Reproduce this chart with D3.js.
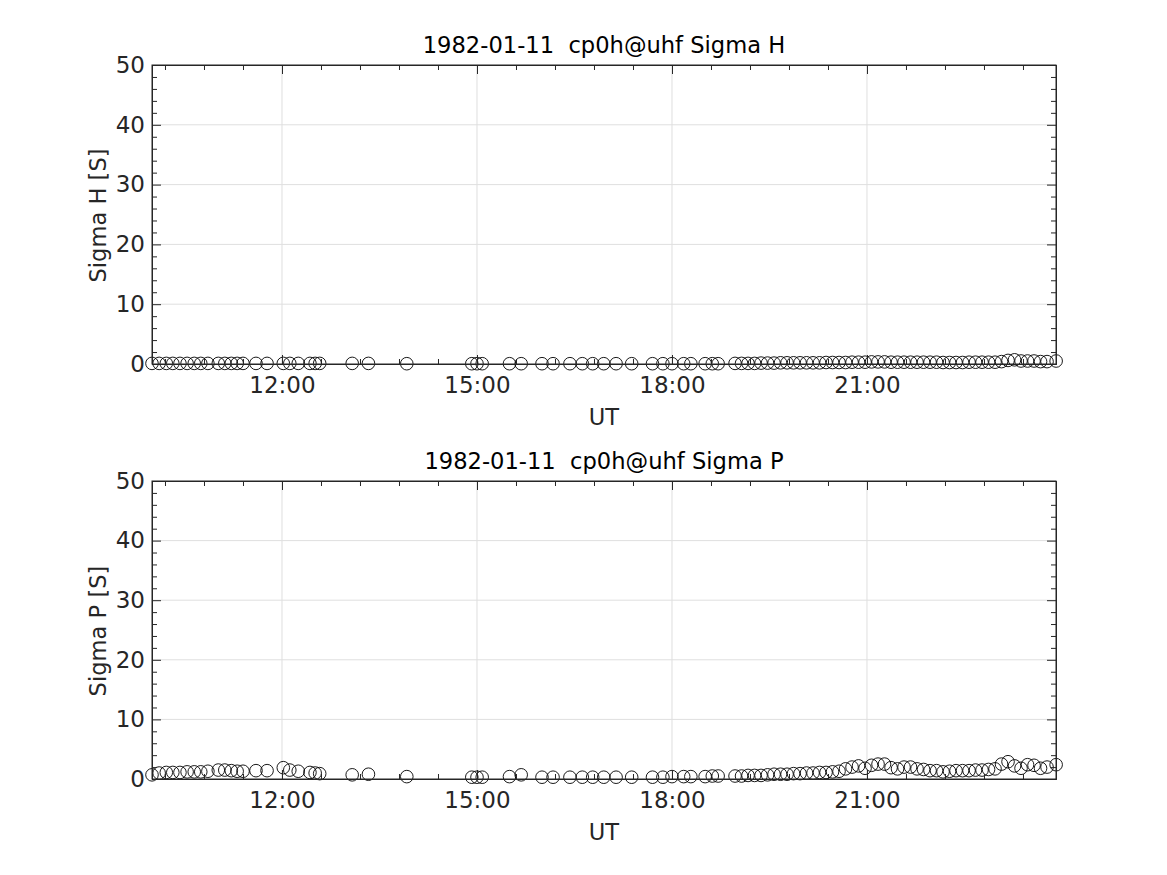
<!DOCTYPE html>
<html><head><meta charset="utf-8">
<script src="https://cdn.jsdelivr.net/npm/d3@7"></script>
<style>body{margin:0;background:#fff}svg{display:block}text{white-space:pre}</style>
</head><body>
<script>
// Time (UT, decimal hours)
const timesUT = [
  10.00,10.11,10.22,10.32,10.43,10.54,10.65,10.75,10.86,
  11.02,11.12,11.22,11.31,11.40,
  11.60,11.77,
  12.02,12.12,12.25,12.43,12.51,12.58,
  13.08,13.33,13.92,
  14.92,15.00,15.08,
  15.50,15.68,
  16.00,16.17,16.43,16.62,16.78,16.95,17.14,17.38,
  17.70,17.86,18.00,18.18,18.29,
  18.51,18.62,18.71,
  18.97,19.07,19.17,19.27,19.37,19.47,19.57,19.67,19.77,19.87,
  19.97,20.07,20.17,20.27,20.37,20.47,20.57,20.67,20.77,20.87,
  20.97,21.07,21.17,21.27,21.37,21.47,21.57,21.67,21.77,21.87,
  21.97,22.07,22.17,22.27,22.37,22.47,22.57,22.67,22.77,22.87,
  22.97,23.07,23.17,23.27,23.37,23.47,23.57,23.67,23.77,23.91
];
const sigmaH = [
  0.1,0.1,0.1,0.1,0.1,0.1,0.1,0.1,0.1,
  0.1,0.1,0.1,0.1,0.1,
  0.1,0.1,
  0.1,0.1,0.1,0.1,0.1,0.1,
  0.1,0.1,0.05,
  0.05,0.05,0.05,
  0.05,0.05,
  0.05,0.05,0.05,0.05,0.05,0.05,0.05,0.05,
  0.05,0.05,0.05,0.05,0.05,
  0.05,0.05,0.05,
  0.1,0.1,0.1,0.1,0.15,0.15,0.15,0.2,0.2,0.2,
  0.2,0.2,0.2,0.2,0.25,0.25,0.25,0.25,0.3,0.3,
  0.3,0.35,0.35,0.35,0.3,0.3,0.3,0.3,0.3,0.3,
  0.3,0.3,0.25,0.25,0.25,0.25,0.3,0.3,0.3,0.3,
  0.3,0.4,0.6,0.7,0.5,0.5,0.5,0.4,0.4,0.5
];
const sigmaP = [
  0.7,1.0,1.1,1.1,1.1,1.2,1.2,1.2,1.3,
  1.5,1.5,1.4,1.3,1.3,
  1.4,1.4,
  1.9,1.5,1.3,1.1,1.0,0.9,
  0.7,0.8,0.4,
  0.3,0.3,0.3,
  0.4,0.7,
  0.3,0.3,0.3,0.3,0.3,0.3,0.3,0.3,
  0.3,0.3,0.4,0.4,0.4,
  0.4,0.5,0.5,
  0.5,0.5,0.6,0.6,0.6,0.7,0.8,0.8,0.8,0.9,
  0.9,1.0,1.0,1.1,1.1,1.2,1.3,1.7,2.0,2.2,
  1.8,2.3,2.5,2.5,1.9,1.7,2.0,2.0,1.7,1.6,
  1.4,1.4,1.2,1.3,1.4,1.4,1.4,1.5,1.5,1.6,
  1.7,2.5,2.9,2.2,1.8,2.4,2.3,1.8,2.0,2.4
];
const xTicks = [12, 15, 18, 21];
const xTickLabels = ["12:00", "15:00", "18:00", "21:00"];
const yTicks = [0, 10, 20, 30, 40, 50];

const panels = [
  {title: "1982-01-11  cp0h@uhf Sigma H", ylabel: "Sigma H [S]", values: sigmaH, top: 65, bottom: 364},
  {title: "1982-01-11  cp0h@uhf Sigma P", ylabel: "Sigma P [S]", values: sigmaP, top: 481, bottom: 779}
];

const W = 1167, H = 875, L = 152, R = 1056;
const svg = d3.select("body").append("svg").attr("width", W).attr("height", H);
const font = "DejaVu Sans, sans-serif";
const txt = "#262626";

const x = d3.scaleLinear().domain([10, 23.908]).range([L, R]);
const minorX = [];
for (let t = 10.2; t < 23.95; t += 0.6) { if (!xTicks.some(m => Math.abs(m - t) < 0.01)) minorX.push(+t.toFixed(2)); }
const minorY = d3.range(0, 51, 2).filter(v => v % 10 !== 0);

panels.forEach(p => {
  const y = d3.scaleLinear().domain([0, 50]).range([p.bottom, p.top]);
  const g = svg.append("g");
  g.selectAll(".gx").data(xTicks).join("line")
    .attr("x1", d => x(d)).attr("x2", d => x(d)).attr("y1", p.top).attr("y2", p.bottom)
    .attr("stroke", "#dfdfdf").attr("stroke-width", 1);
  g.selectAll(".gy").data(yTicks.slice(1, -1)).join("line")
    .attr("y1", d => y(d)).attr("y2", d => y(d)).attr("x1", L).attr("x2", R)
    .attr("stroke", "#dfdfdf").attr("stroke-width", 1);

  const axB = d3.axisBottom(x).tickValues(xTicks).tickFormat((d, i) => xTickLabels[i]).tickSizeInner(-9).tickSizeOuter(0).tickPadding(13);
  const axT = d3.axisTop(x).tickValues(xTicks).tickFormat("").tickSizeInner(-9).tickSizeOuter(0);
  const axL = d3.axisLeft(y).tickValues(yTicks).tickSizeInner(-9).tickSizeOuter(0).tickPadding(7);
  const axR = d3.axisRight(y).tickValues(yTicks).tickFormat("").tickSizeInner(-9).tickSizeOuter(0);
  const mB = d3.axisBottom(x).tickValues(minorX).tickFormat("").tickSizeInner(-5).tickSizeOuter(0);
  const mT = d3.axisTop(x).tickValues(minorX).tickFormat("").tickSizeInner(-5).tickSizeOuter(0);
  const mL = d3.axisLeft(y).tickValues(minorY).tickFormat("").tickSizeInner(-5).tickSizeOuter(0);
  const mR = d3.axisRight(y).tickValues(minorY).tickFormat("").tickSizeInner(-5).tickSizeOuter(0);

  const add = (ax, tr) => {
    const a = g.append("g").attr("transform", tr).call(ax);
    a.selectAll("path,line").attr("stroke", "#262626").attr("stroke-width", 1);
    a.selectAll("text").attr("fill", txt).attr("font-family", font).attr("font-size", 23);
    return a;
  };

  const pts = timesUT.map((t, i) => [t, p.values[i]]);
  g.append("g").selectAll("circle").data(pts).join("circle")
    .attr("cx", d => x(d[0])).attr("cy", d => y(d[1])).attr("r", 6.3)
    .attr("fill", "none").attr("stroke", "#000").attr("stroke-width", 0.9);

  add(mB, `translate(0,${p.bottom})`);
  add(mT, `translate(0,${p.top})`);
  add(mL, `translate(${L},0)`);
  add(mR, `translate(${R},0)`);
  add(axB, `translate(0,${p.bottom})`);
  add(axT, `translate(0,${p.top})`);
  add(axL, `translate(${L},0)`);
  add(axR, `translate(${R},0)`);

  g.append("rect").attr("x", L).attr("y", p.top).attr("width", R - L).attr("height", p.bottom - p.top)
    .attr("fill", "none").attr("stroke", "#262626").attr("stroke-width", 1);

  g.append("text").attr("x", (L + R) / 2).attr("y", p.top - 12).attr("text-anchor", "middle")
    .attr("font-family", font).attr("font-size", 22.6).attr("fill", "#000").text(p.title);
  g.append("text").attr("x", (L + R) / 2).attr("y", p.bottom + 61).attr("text-anchor", "middle")
    .attr("font-family", font).attr("font-size", 22.6).attr("fill", txt).text("UT");
  g.append("text").attr("transform", `translate(106,${(p.top + p.bottom) / 2 + 1}) rotate(-90)`)
    .attr("text-anchor", "middle").attr("font-family", font).attr("font-size", 22.6).attr("fill", txt).text(p.ylabel);
});
</script>
</body></html>
